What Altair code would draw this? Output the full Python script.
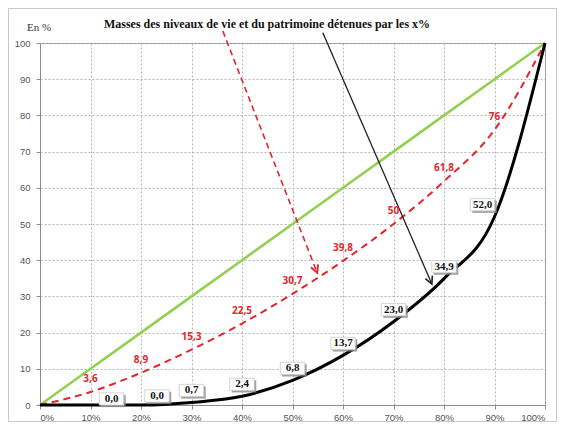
import math
import altair as alt
import pandas as pd

# ---- data ----
pct = [0, 10, 20, 30, 40, 50, 60, 70, 80, 90, 100]
egalite = [0, 10, 20, 30, 40, 50, 60, 70, 80, 90, 100]
niveau_vie = [0, 3.6, 8.9, 15.3, 22.5, 30.7, 39.8, 50, 61.8, 76, 100]
patrimoine = [0, 0.0, 0.0, 0.7, 2.4, 6.8, 13.7, 23.0, 34.9, 52.0, 100]

label_pct = [10, 20, 30, 40, 50, 60, 70, 80, 90]
labels_vie = ["3,6", "8,9", "15,3", "22,5", "30,7", "39,8", "50", "61,8", "76"]
labels_pat = ["0,0", "0,0", "0,7", "2,4", "6,8", "13,7", "23,0", "34,9", "52,0"]

arrow_red_x = [36.2, 54.9]
arrow_red_y = [103.3, 36.5]
arrow_blk_x = [56.0, 77.6]
arrow_blk_y = [102.8, 33.4]

title_text = "Masses des niveaux de vie et du patrimoine  détenues par les x%"
unit_text = "En %"

# ---- layout ----
W, H = 505, 362
PX_X, PX_Y = W / 100.0, H / 100.0
RED = "#E0262E"
GREEN = "#92D050"

df = pd.DataFrame({"pct": pct, "egal": egalite, "vie": niveau_vie, "pat": patrimoine})
lab_vie = pd.DataFrame({"pct": label_pct,
                        "vie": niveau_vie[1:10], "label": labels_vie})
lab_pat = pd.DataFrame({"pct": label_pct,
                        "pat": patrimoine[1:10], "label": labels_pat})

xs = alt.Scale(domain=[0, 100], nice=False)
ys = alt.Scale(domain=[0, 100], nice=False)

xaxis = alt.Axis(values=list(range(0, 101, 10)), labelExpr="datum.value + '%'",
                 title=None, grid=True, tickCount=11)
yaxis = alt.Axis(values=list(range(0, 101, 10)), title=None, grid=True,
                 tickCount=11, labelOverlap=False)


def X(f):
    return alt.X(f, scale=xs, axis=xaxis)


def Y(f):
    return alt.Y(f, scale=ys, axis=yaxis)


base = alt.Chart(df)

green = base.mark_line(color=GREEN, strokeWidth=2.6).encode(x=X("pct:Q"), y=Y("egal:Q"))
red = base.mark_line(color=RED, strokeWidth=2, strokeDash=[7, 5],
                     interpolate="monotone").encode(x=X("pct:Q"), y=Y("vie:Q"))
black = base.mark_line(color="#000000", strokeWidth=3,
                       interpolate="monotone").encode(x=X("pct:Q"), y=Y("pat:Q"))


def arrow(xv, yv, color, width, dash=None):
    d = pd.DataFrame({"x": xv, "y": yv, "o": [0, 1]})
    kw = dict(color=color, strokeWidth=width)
    if dash:
        kw["strokeDash"] = dash
    ln = alt.Chart(d).mark_line(**kw).encode(x=X("x:Q"), y=Y("y:Q"), order="o:Q")
    dxp = (xv[1] - xv[0]) * PX_X
    dyp = (yv[0] - yv[1]) * PX_Y
    ang = (360 - math.degrees(math.atan2(dxp, dyp))) % 360
    head = alt.Chart(d.iloc[[1]]).mark_point(
        shape="M-0.5,-1L0,0L0.5,-1", size=230, filled=False,
        stroke=color, strokeWidth=width + 0.3, angle=ang, opacity=1
    ).encode(x=X("x:Q"), y=Y("y:Q"))
    return ln + head


red_arrow = arrow(arrow_red_x, arrow_red_y, RED, 1.6, [6, 4])
blk_arrow = arrow(arrow_blk_x, arrow_blk_y, "#222222", 1.3)

red_labels = alt.Chart(lab_vie).mark_text(
    color=RED, font="Open Sans", fontWeight="bold", fontSize=10, dy=-13
).encode(x=X("pct:Q"), y=Y("vie:Q"), text="label:N")

BOX = "M-1,-0.5H1V0.5H-1Z"


def pat_labels(filt, dx, dy):
    c = alt.Chart(lab_pat).transform_filter(filt)
    enc = dict(x=X("pct:Q"), y=Y("pat:Q"))
    shadow = c.mark_point(shape=BOX, size=600, filled=True, fill="#8a8a8a",
                          opacity=0.8, strokeWidth=0,
                          xOffset=dx + 2, yOffset=dy + 2).encode(**enc)
    box = c.mark_point(shape=BOX, size=600, filled=True, fill="#ffffff",
                       stroke="#c8c8c8", strokeWidth=0.8, opacity=1,
                       xOffset=dx, yOffset=dy).encode(**enc)
    txt = c.mark_text(font="Liberation Serif", fontWeight="bold", fontSize=11,
                      color="#111111", dx=dx, dy=dy).encode(text="label:N", **enc)
    return shadow + box + txt


pl1 = pat_labels("datum.pct == 10", 21, -6)
pl2 = pat_labels("datum.pct == 20", 16, -9)
pl3 = pat_labels("datum.pct >= 30 && datum.pct <= 80", 0, -12)
pl4 = pat_labels("datum.pct == 90", -12, -12)

one = alt.Data(values=[{}])
frame = alt.Chart(one).mark_rect(fillOpacity=0, stroke="#c8c8c8", strokeWidth=1).encode(
    x=alt.value(-31.5), x2=alt.value(516.5), y=alt.value(-34.5), y2=alt.value(378.5))
title = alt.Chart(one).mark_text(
    text=title_text, font="Liberation Serif", fontWeight="bold", fontSize=12,
    color="#111111").encode(x=alt.value(227), y=alt.value(-19))
unit = alt.Chart(one).mark_text(
    text=unit_text, font="Liberation Serif", fontSize=11, color="#333333"
).encode(x=alt.value(-1), y=alt.value(-15))

chart = alt.layer(
    frame, green, red, black, red_arrow, blk_arrow,
    red_labels, pl1, pl2, pl3, pl4, title, unit
).properties(
    width=W, height=H,
    autosize=alt.AutoSizeParams(type="none"),
    padding={"left": 32, "top": 35, "right": 12, "bottom": 17},
).configure_view(
    stroke="#8c8c8c", strokeWidth=1
).configure_axis(
    gridColor="#b4b4b4", gridDash=[2, 2], gridWidth=1,
    domainColor="#8c8c8c", tickColor="#8c8c8c", tickSize=4,
    labelFont="Liberation Sans", labelFontSize=9.5, labelColor="#555555",
).configure_axisY(labelPadding=6).configure_axisX(labelPadding=3)

chart.save("out.html", embed_options={"renderer": "svg", "actions": False})
